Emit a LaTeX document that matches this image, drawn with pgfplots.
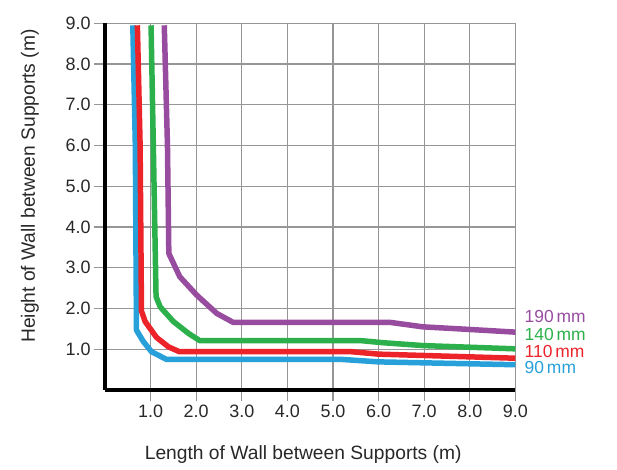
\documentclass[border=0pt]{standalone}
\usepackage{fontspec}
\setmainfont{Liberation Sans}
\usepackage{pgfplots}
\pgfplotsset{compat=1.18}
\definecolor{cpurple}{RGB}{152,76,160}
\definecolor{cgreen}{RGB}{44,176,76}
\definecolor{cred}{RGB}{237,35,42}
\definecolor{cblue}{RGB}{40,160,218}
\definecolor{cgrid}{RGB}{150,150,150}
\definecolor{ctext}{RGB}{40,40,40}
\begin{document}
\begin{tikzpicture}
\begin{axis}[
  x=45.6bp, y=40.75bp,
  xmin=0, xmax=9, ymin=0, ymax=9,
  axis x line=bottom, axis y line=left,
  axis line style={-, line width=4.5bp, black},
  xtick={1,...,9}, ytick={1,...,9},
  grid=major, grid style={cgrid, line width=1.3bp},
  major tick length=11bp, tick align=outside,
  tick style={cgrid, line width=1.3bp},
  /pgf/number format/assume math mode=true,
  xticklabel={\pgfmathprintnumber[fixed,fixed zerofill,precision=1]{\tick}},
  yticklabel={\pgfmathprintnumber[fixed,fixed zerofill,precision=1]{\tick}},
  ticklabel style={font=\fontsize{18}{20}\selectfont, text=ctext},
  xlabel={Length of Wall between Supports (m)},
  ylabel={Height of Wall between Supports (m)},
  label style={font=\fontsize{19.3}{21}\selectfont, text=ctext},
  xlabel style={at={(axis description cs:0.483,-0.177)}, anchor=center},
  ylabel style={at={(axis description cs:-0.183,0.556)}, anchor=center, rotate=0},
  clip=false,
  every axis plot/.append style={line width=5.5bp, line join=round, line cap=butt},
]
\coordinate (O) at (axis cs:0,0);
% 90 mm
\addplot[cblue] coordinates {(0.61,8.95) (0.665,6) (0.69,1.47) (0.84,1.19) (1.02,0.94) (1.35,0.75) (5.2,0.75) (6.0,0.69) (9,0.62)};
% 110 mm
\addplot[cred] coordinates {(0.71,8.95) (0.77,6) (0.80,1.94) (0.88,1.68) (1.13,1.29) (1.39,1.06) (1.63,0.94) (5.4,0.94) (6.0,0.88) (9,0.78)};
% 140 mm
\addplot[cgreen] coordinates {(1.01,8.95) (1.06,6) (1.12,2.29) (1.21,2.04) (1.50,1.68) (1.83,1.39) (2.08,1.21) (5.63,1.21) (6.1,1.16) (6.98,1.09) (9,1.01)};
% 190 mm
\addplot[cpurple] coordinates {(1.30,8.95) (1.37,6) (1.40,3.35) (1.64,2.78) (2.01,2.33) (2.45,1.88) (2.81,1.66) (6.25,1.66) (6.97,1.55) (7.93,1.49) (9,1.42)};
\node[anchor=west, text=cpurple, font=\fontsize{17.5}{19}\selectfont, inner sep=0pt] at (axis cs:9.2,1.80) {190\,mm};
\node[anchor=west, text=cgreen, font=\fontsize{17.5}{19}\selectfont, inner sep=0pt] at (axis cs:9.2,1.35) {140\,mm};
\node[anchor=west, text=cred, font=\fontsize{17.5}{19}\selectfont, inner sep=0pt] at (axis cs:9.2,0.94) {110\,mm};
\node[anchor=west, text=cblue, font=\fontsize{17.5}{19}\selectfont, inner sep=0pt] at (axis cs:9.2,0.55) {90\,mm};
\end{axis}
\path (O) ++(-105bp,-80bp) rectangle ++(617bp,470bp);
\end{tikzpicture}
\end{document}
